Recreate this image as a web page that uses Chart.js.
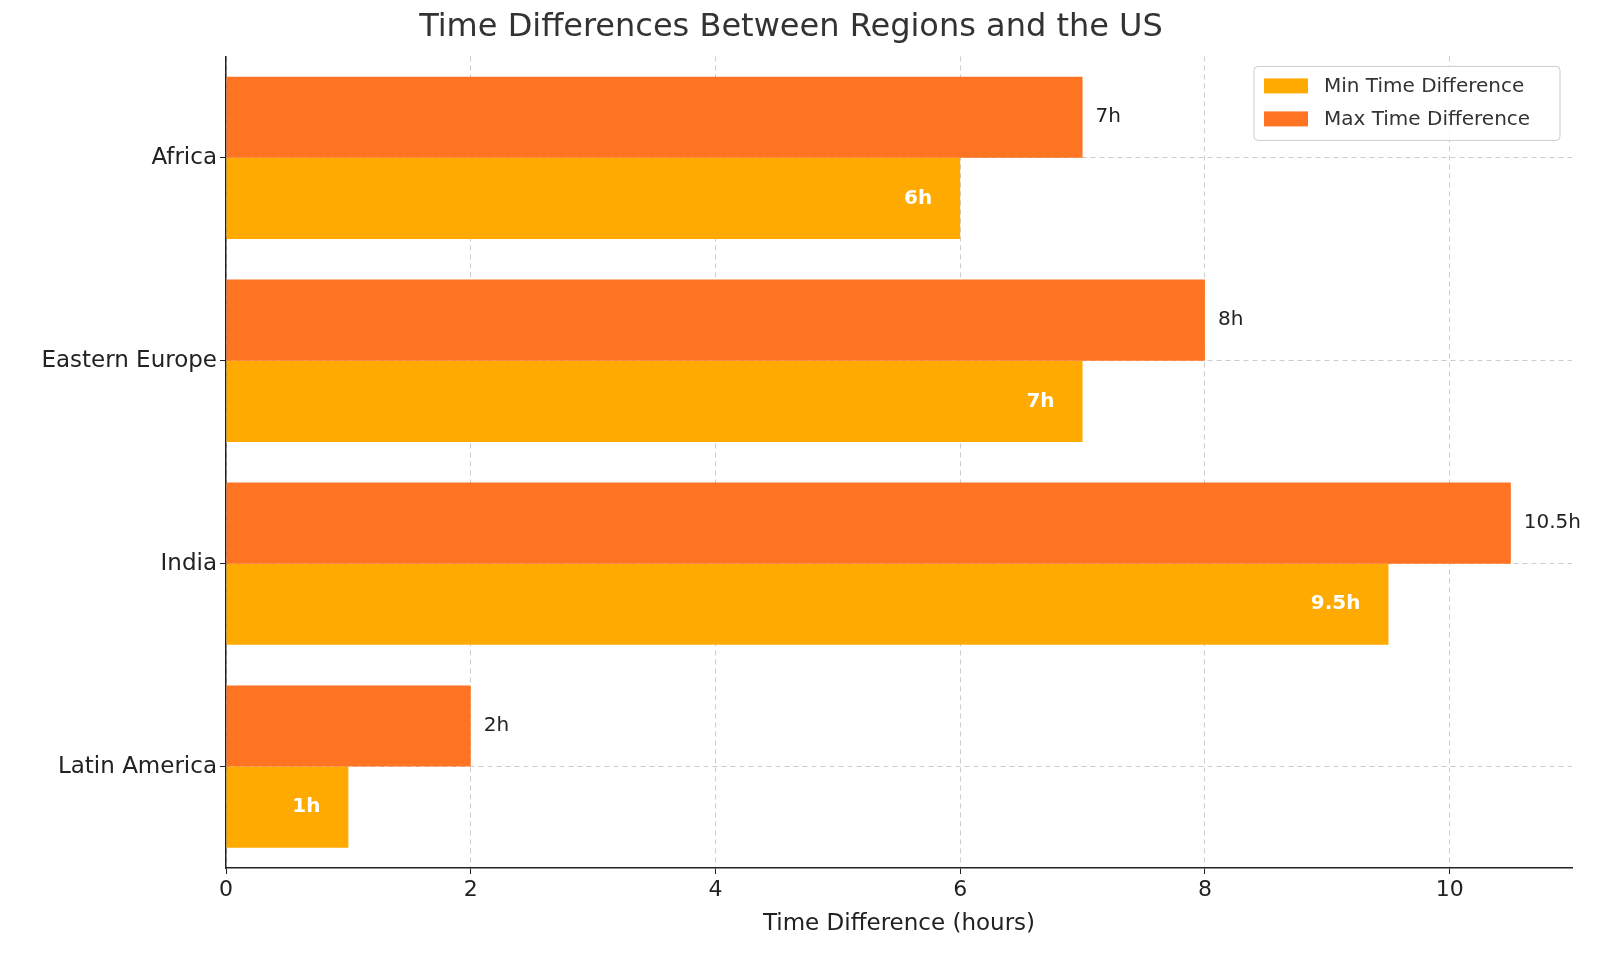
<!DOCTYPE html>
<html><head><meta charset="utf-8">
<script src="https://cdn.jsdelivr.net/npm/chart.js@4"></script>
<style>html,body{margin:0;background:#fff}#w{width:1600px;height:956px}</style>
</head><body><div id="w"><canvas id="c"></canvas></div>
<script>
const categories = ["Africa", "Eastern Europe", "India", "Latin America"];
const minValues = [6, 7, 9.5, 1];
const maxValues = [7, 8, 10.5, 2];
const xTicks = [0, 2, 4, 6, 8, 10];
const F = "'DejaVu Sans', sans-serif";
const fmt = v => v + "h";

const labelPlugin = {
  id: 'labels',
  afterDatasetsDraw(chart) {
    const ctx = chart.ctx;
    ctx.save();
    ctx.textBaseline = 'middle';
    chart.getDatasetMeta(0).data.forEach((b, i) => {
      ctx.font = `20px ${F}`; ctx.fillStyle = '#222'; ctx.textAlign = 'left';
      ctx.fillText(fmt(maxValues[i]), b.x + 13, b.y);
    });
    chart.getDatasetMeta(1).data.forEach((b, i) => {
      ctx.font = `bold 20px ${F}`; ctx.fillStyle = '#fff'; ctx.textAlign = 'right';
      ctx.fillText(fmt(minValues[i]), b.x - 28, b.y);
    });
    const a = chart.chartArea;
    const x0 = a.right - 318, y0 = a.top + 10, w = 306, h = 74;
    ctx.fillStyle = 'rgba(255,255,255,0.85)'; ctx.strokeStyle = '#ccc'; ctx.lineWidth = 1;
    ctx.beginPath(); ctx.roundRect(x0, y0, w, h, 4); ctx.fill(); ctx.stroke();
    const items = [["Min Time Difference", '#FFAA00'], ["Max Time Difference", '#FF7422']];
    items.forEach((it, k) => {
      const yy = y0 + 19 + k * 33;
      ctx.fillStyle = it[1]; ctx.fillRect(x0 + 10, yy - 7, 44, 15);
      ctx.fillStyle = '#333'; ctx.font = `20px ${F}`; ctx.textAlign = 'left';
      ctx.fillText(it[0], x0 + 70, yy + 1);
    });
    ctx.restore();
  }
};

new Chart(document.getElementById('c'), {
  type: 'bar',
  data: {
    labels: categories,
    datasets: [
      { label: 'Max Time Difference', data: maxValues, backgroundColor: '#FF7422' },
      { label: 'Min Time Difference', data: minValues, backgroundColor: '#FFAA00' }
    ]
  },
  options: {
    indexAxis: 'y', responsive: true, maintainAspectRatio: false, animation: false,
    datasets: { bar: { categoryPercentage: 0.8, barPercentage: 1 } },
    layout: { padding: { left: 10, right: 28, top: 8, bottom: 14 } },
    plugins: {
      legend: { display: false }, tooltip: { enabled: false },
      title: { display: true, text: 'Time Differences Between Regions and the US', color: '#333',
        font: { family: F, size: 32, weight: 'normal' }, padding: { top: 0, bottom: 10 } }
    },
    scales: {
      x: { min: 0, max: 11,
        afterBuildTicks: s => { s.ticks = xTicks.map(v => ({ value: v })); },
        ticks: { color: '#222', font: { family: F, size: 22 } },
        grid: { color: '#ccc', drawTicks: true, tickColor: '#222', tickLength: 6 },
        border: { display: true, color: '#222', width: 1.5, dash: [5, 4] },
        title: { display: true, text: 'Time Difference (hours)', color: '#222', font: { family: F, size: 23 } }
      },
      y: {
        afterFit: s => { s.width = 216; },
        ticks: { color: '#222', font: { family: F, size: 23 } },
        grid: { offset: false, color: '#ccc', tickColor: '#222', tickLength: 6 },
        border: { display: true, color: '#222', width: 1.5, dash: [5, 4] }
      }
    }
  },
  plugins: [labelPlugin]
});
</script></body></html>
